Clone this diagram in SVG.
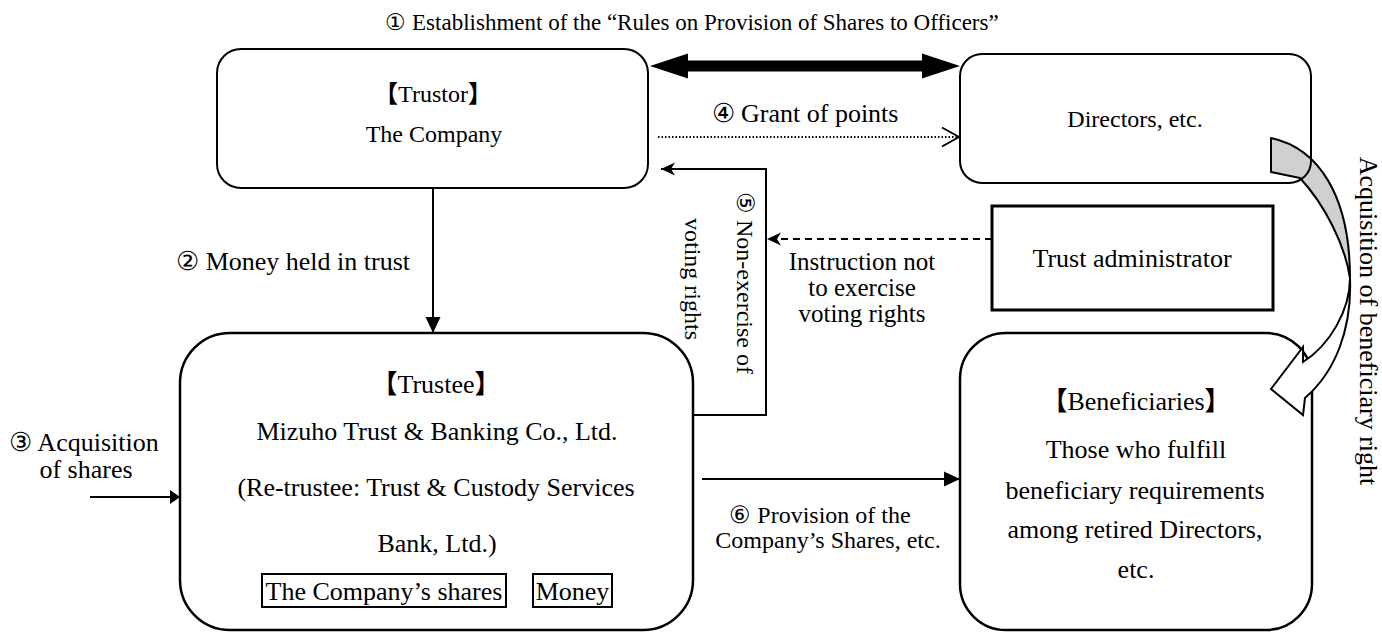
<svg xmlns="http://www.w3.org/2000/svg" width="1382" height="632" viewBox="0 0 1382 632" font-family="Liberation Serif, Times New Roman, serif">
<style>
.t24,.t26,.t23,.t25{font-family:'Liberation Serif','Times New Roman',serif;fill:#000}
.cjk{font-family:'Noto Sans CJK JP','Noto Sans CJK SC',sans-serif;font-weight:bold}
.t24{font-size:24px}
.t25{font-size:25px}
.t26{font-size:26px}
.t23{font-size:23px}
.c{text-anchor:middle}
.box{fill:none;stroke:#000;stroke-width:2}
.bx{fill:#fff;stroke:#000;stroke-width:2.5}
.ln{fill:none;stroke:#000;stroke-width:2}
</style>
<defs>
<marker id="stealth" markerUnits="userSpaceOnUse" markerWidth="16" markerHeight="14" viewBox="-15 -7 16 14" refX="0" refY="0" orient="auto">
<path d="M0,0 L-14,-6.5 L-10,0 L-14,6.5 Z" fill="#000"/>
</marker>
<marker id="tri" markerUnits="userSpaceOnUse" markerWidth="18" markerHeight="18" viewBox="-17 -9 18 18" refX="0" refY="0" orient="auto">
<path d="M0,0 L-16,-7.5 L-16,7.5 Z" fill="#000"/>
</marker>
<marker id="triS" markerUnits="userSpaceOnUse" markerWidth="12" markerHeight="16" viewBox="-11 -8 12 16" refX="0" refY="0" orient="auto">
<path d="M0,0 L-10,-7 L-10,7 Z" fill="#000"/>
</marker>
<marker id="open" markerUnits="userSpaceOnUse" markerWidth="22" markerHeight="24" viewBox="-20 -12 22 24" refX="0" refY="0" orient="auto">
<path d="M-17,-9.5 L0,0 L-17,9.5" fill="none" stroke="#000" stroke-width="2"/>
</marker>
</defs>

<g id="trustor">
<rect class="bx" x="217" y="49" width="431" height="139" rx="24" style="stroke-width:2"/>
<text class="t24 c" x="433" y="102"><tspan class="cjk">【</tspan>Trustor<tspan class="cjk">】</tspan></text>
<text class="t24 c" x="434" y="142">The Company</text>
</g>

<g id="trustee">
<rect class="bx" x="180" y="333" width="513" height="297" rx="50"/>
<text class="t26 c" x="436" y="393"><tspan class="cjk">【</tspan>Trustee<tspan class="cjk">】</tspan></text>
<text class="t26 c" x="437" y="440">Mizuho Trust &amp; Banking Co., Ltd.</text>
<text class="t26 c" x="436" y="496">(Re-trustee: Trust &amp; Custody Services</text>
<text class="t26 c" x="437" y="552">Bank, Ltd.)</text>
<rect x="262" y="574" width="244" height="33" fill="none" stroke="#000" stroke-width="2"/>
<text class="t26 c" x="384" y="600">The Company’s shares</text>
<rect x="533" y="574" width="79" height="33" fill="none" stroke="#000" stroke-width="2"/>
<text class="t26 c" x="572.5" y="600">Money</text>
</g>

<g id="beneficiaries">
<rect class="bx" x="960" y="333" width="352" height="297" rx="46"/>
<text class="t26 c" x="1136" y="410"><tspan class="cjk">【</tspan>Beneficiaries<tspan class="cjk">】</tspan></text>
<text class="t26 c" x="1136" y="458">Those who fulfill</text>
<text class="t26 c" x="1135" y="499">beneficiary requirements</text>
<text class="t26 c" x="1135" y="538">among retired Directors,</text>
<text class="t26 c" x="1136" y="578">etc.</text>
</g>

<g id="trust-administrator">
<rect x="992" y="206" width="281" height="104" fill="#fff" stroke="#000" stroke-width="3"/>
<text class="t26 c" x="1132" y="267">Trust administrator</text>
</g>

<g id="connectors">
<text class="t23 c" x="692" y="30">① Establishment of the “Rules on Provision of Shares to Officers”</text>
<polygon points="650,66 688,53.5 688,60.5 922,60.5 922,53.5 960,66 922,78.5 922,71.5 688,71.5 688,78.5" fill="#000"/>
<text class="t26 c" x="805" y="122">④ Grant of points</text>
<line x1="658" y1="137" x2="959" y2="137" stroke="#000" stroke-width="2" stroke-dasharray="1.5 2" marker-end="url(#open)"/>
<line class="ln" x1="433" y1="188" x2="433" y2="333" marker-end="url(#tri)"/>
<text class="t26" x="410" y="270" text-anchor="end">② Money held in trust</text>
<text class="t26 c" x="84" y="451">③ Acquisition</text>
<text class="t26 c" x="86" y="478">of shares</text>
<line class="ln" x1="90" y1="497" x2="180" y2="497" marker-end="url(#triS)"/>
<polyline class="ln" points="693,415 766,415 766,169 661,169" marker-end="url(#stealth)"/>
<text class="t24 c" transform="translate(737,283) rotate(90)">⑤ Non-exercise of</text>
<text class="t24 c" transform="translate(685,279) rotate(90)">voting rights</text>
<line class="ln" x1="992" y1="239" x2="767" y2="239" stroke-dasharray="7 5" marker-end="url(#stealth)"/>
<text class="t25 c" x="862" y="270">Instruction not</text>
<text class="t25 c" x="862" y="296">to exercise</text>
<text class="t25 c" x="862" y="322">voting rights</text>
<line class="ln" x1="702" y1="479" x2="960" y2="479" marker-end="url(#tri)"/>
<text class="t24 c" x="820" y="523">⑥ Provision of the</text>
<text class="t24 c" x="828" y="548">Company’s Shares, etc.</text>
<path d="M1271,138 L1271,172 L1300,178 C1325,205 1345,245 1350,278 C1350,195 1318,148 1271,138 Z" fill="#d0d0d0" stroke="#000" stroke-width="2" stroke-linejoin="round"/>
<path d="M1350,278 C1350,310 1330,345 1303,362 L1303,347 L1271,389 L1303,415 L1305,398 C1335,372 1352,330 1350,278 Z" fill="#fff" stroke="#000" stroke-width="2" stroke-linejoin="miter"/>
<text class="t26 c" transform="translate(1360,321) rotate(90)">Acquisition of beneficiary right</text>
</g>

<g id="directors">
<rect class="box" x="960" y="54" width="351" height="129" rx="22"/>
<text class="t24 c" x="1135" y="127">Directors, etc.</text>
</g>
</svg>
